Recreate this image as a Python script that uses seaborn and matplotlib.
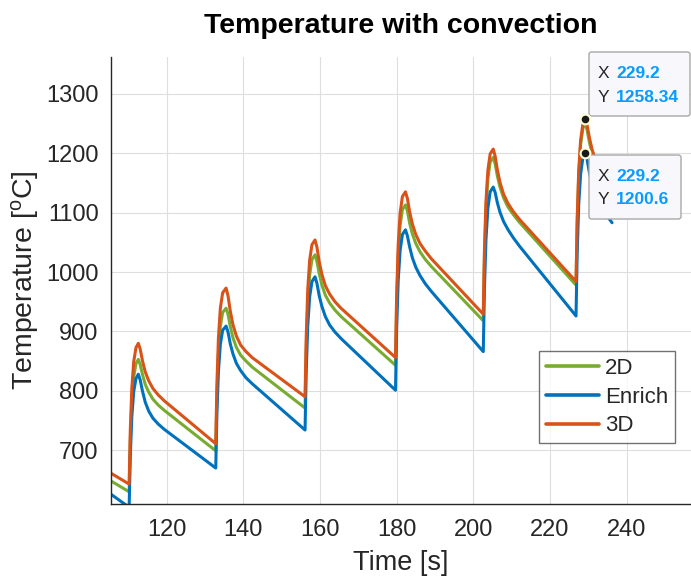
import pandas as pd
import seaborn as sns
import matplotlib.pyplot as plt
from matplotlib.patches import FancyBboxPatch

# -----------------------------
# Data
# -----------------------------

time_s = [
    105.0,
    110.2, 110.5, 110.9, 111.4, 112.0, 112.6,
    113.1, 113.7, 114.4, 115.3, 116.4, 117.8, 119.4,
    132.8, 133.1, 133.5, 134.0, 134.6, 135.5,
    136.0, 136.6, 137.3, 138.2, 139.3, 140.7, 142.3,
    156.1, 156.4, 156.8, 157.3, 157.9, 158.7,
    159.2, 159.8, 160.5, 161.4, 162.5, 163.9, 165.5,
    179.7, 180.0, 180.4, 180.9, 181.5, 182.3,
    182.8, 183.4, 184.1, 185.0, 186.1, 187.5, 189.1,
    202.6, 202.9, 203.3, 203.8, 204.4, 205.2,
    205.7, 206.3, 207.0, 207.9, 209.0, 210.4, 212.0,
    226.8, 227.1, 227.5, 228.0, 228.6, 229.2,
    229.7, 230.3, 231.0, 231.9, 233.0, 234.4, 236.2,
]

temp_2d = [
    650,
    630, 715, 782, 824, 846, 853,
    844, 827, 811, 798, 786, 776, 767,
    699, 790, 862, 908, 932, 939,
    929, 908, 889, 873, 860, 850, 840,
    771, 869, 946, 995, 1021, 1029,
    1018, 997, 978, 961, 948, 936, 925,
    843, 946, 1027, 1078, 1105, 1113,
    1103, 1082, 1064, 1048, 1034, 1021, 1009,
    918, 1023, 1105, 1157, 1185, 1193,
    1182, 1161, 1142, 1125, 1110, 1097, 1084,
    978, 1081, 1163, 1215, 1242, 1250,
    1239, 1218, 1200, 1182, 1168, 1155, 1140,
]

temp_enrich = [
    628,
    604, 689, 756, 799, 821, 828,
    818, 799, 781, 766, 754, 744, 735,
    670, 761, 833, 878, 902, 909,
    899, 879, 862, 846, 834, 822, 812,
    734, 832, 909, 958, 984, 992,
    981, 960, 942, 925, 911, 899, 888,
    801, 904, 985, 1036, 1063, 1071,
    1061, 1042, 1024, 1008, 994, 980, 967,
    866, 971, 1054, 1107, 1135, 1143,
    1134, 1116, 1100, 1085, 1072, 1058, 1044,
    926, 1031, 1113, 1165, 1193, 1200.6,
    1189, 1167, 1147, 1129, 1114, 1099, 1083,
]

temp_3d = [
    663,
    643, 733, 804, 849, 873, 880,
    870, 850, 832, 817, 804, 793, 783,
    711, 811, 889, 939, 965, 973,
    960, 934, 911, 892, 877, 866, 856,
    790, 890, 970, 1020, 1046, 1054,
    1042, 1017, 996, 977, 963, 950, 939,
    856, 962, 1046, 1099, 1127, 1135,
    1124, 1101, 1081, 1063, 1048, 1035, 1022,
    929, 1035, 1118, 1171, 1199, 1207,
    1195, 1171, 1150, 1131, 1116, 1102, 1089,
    984, 1088, 1170, 1222, 1250, 1258.34,
    1247, 1226, 1206, 1189, 1174, 1161, 1146,
]

models = ['2D', 'Enrich', '3D']
colors = ['#77AC30', '#0072BD', '#D95319']

x_ticks = [120, 140, 160, 180, 200, 220, 240]
y_ticks = [700, 800, 900, 1000, 1100, 1200, 1300]

# data tips: (x, y)
tip_3d = (229.2, 1258.34)
tip_enrich = (229.2, 1200.6)

# -----------------------------
# Long table for seaborn
# -----------------------------

df = pd.concat([
    pd.DataFrame({'time': time_s, 'temp': temp_2d, 'model': '2D'}),
    pd.DataFrame({'time': time_s, 'temp': temp_enrich, 'model': 'Enrich'}),
    pd.DataFrame({'time': time_s, 'temp': temp_3d, 'model': '3D'}),
])

sns.set_style('white')
plt.rcParams['font.family'] = ['Liberation Sans', 'DejaVu Sans']
plt.rcParams['mathtext.default'] = 'regular'

W, H = 691, 581
fig = plt.figure(figsize=(W / 100, H / 100), dpi=100)
ax = fig.add_axes([111 / W, 1 - 503.5 / H, 580 / W, (503.5 - 57) / H])

sns.lineplot(
    data=df, x='time', y='temp', hue='model',
    hue_order=models, palette=dict(zip(models, colors)),
    estimator=None, linewidth=2.2, ax=ax
)

ax.set_xlim(105.47, 256.8)
ax.set_ylim(610.3, 1362)
ax.set_xticks(x_ticks)
ax.set_yticks(y_ticks)
ax.grid(True, color='#DEDEDE', linewidth=0.8)
ax.set_axisbelow(True)
for side in ['top', 'right']:
    ax.spines[side].set_visible(False)
for side in ['left', 'bottom']:
    ax.spines[side].set_color('#262626')
    ax.spines[side].set_linewidth(1.0)
ax.tick_params(direction='in', length=4, width=0.8, colors='#262626',
               labelsize=17, pad=9)
ax.tick_params(axis='x', pad=11)

ax.set_xlabel('Time [s]', fontsize=19.5, color='#262626')
ax.set_ylabel('Temperature [$^{o}$C]', fontsize=20.5, color='#262626')
ax.xaxis.set_label_coords(0.5, -0.105)
ax.yaxis.set_label_coords(-0.121, 0.5)

fig.text(401 / W, 1 - 33 / H, 'Temperature with convection',
         ha='center', va='baseline', fontsize=20.5, fontweight='bold',
         color='black')

handles, labels = ax.get_legend_handles_labels()
leg = ax.legend(handles, labels, loc='lower right',
                bbox_to_anchor=(0.972, 0.1355), fontsize=16,
                frameon=True, fancybox=False, edgecolor='#4D4D4D',
                handlelength=2.4, handletextpad=0.25, labelspacing=0.35,
                borderpad=0.3, borderaxespad=0)
leg.get_frame().set_linewidth(1.0)
for line in leg.get_lines():
    line.set_linewidth(2.6)

# -----------------------------
# Data tips (boxes placed in figure pixels)
# -----------------------------

def place_tip(x0, y0, x1, y1, xval, yval):
    box = FancyBboxPatch(
        (x0 / W, 1 - y1 / H), (x1 - x0) / W, (y1 - y0) / H,
        boxstyle='round,pad=0,rounding_size=0.004',
        transform=fig.transFigure, facecolor='#F8F8FC',
        edgecolor='#A8A8A8', linewidth=1.0, clip_on=False, zorder=5
    )
    ax.add_artist(box)
    rows = [('X', xval), ('Y', yval)]
    for i, (lab, val) in enumerate(rows):
        ty = y0 + 21 + i * 24
        ax.text((x0 + 9) / W, 1 - ty / H, lab, transform=fig.transFigure,
                fontsize=12.5, color='#262626', va='center', zorder=6,
                clip_on=False)
        ax.text((x0 + 27) / W, 1 - ty / H, val, transform=fig.transFigure,
                fontsize=12.5, color='#0A9BFF', fontweight='bold',
                va='center', zorder=6, clip_on=False)


place_tip(589, 52, 690, 116, '229.2', '1258.34')
place_tip(589, 155, 681, 219, '229.2', '1200.6')

for tx, ty in [tip_3d, tip_enrich]:
    ax.plot([tx], [ty], 'o', ms=7, mfc='#1A1A1A', mec='#FFFFD6', mew=1.5,
            zorder=7, clip_on=False)

fig.savefig('out.png', dpi=100)
